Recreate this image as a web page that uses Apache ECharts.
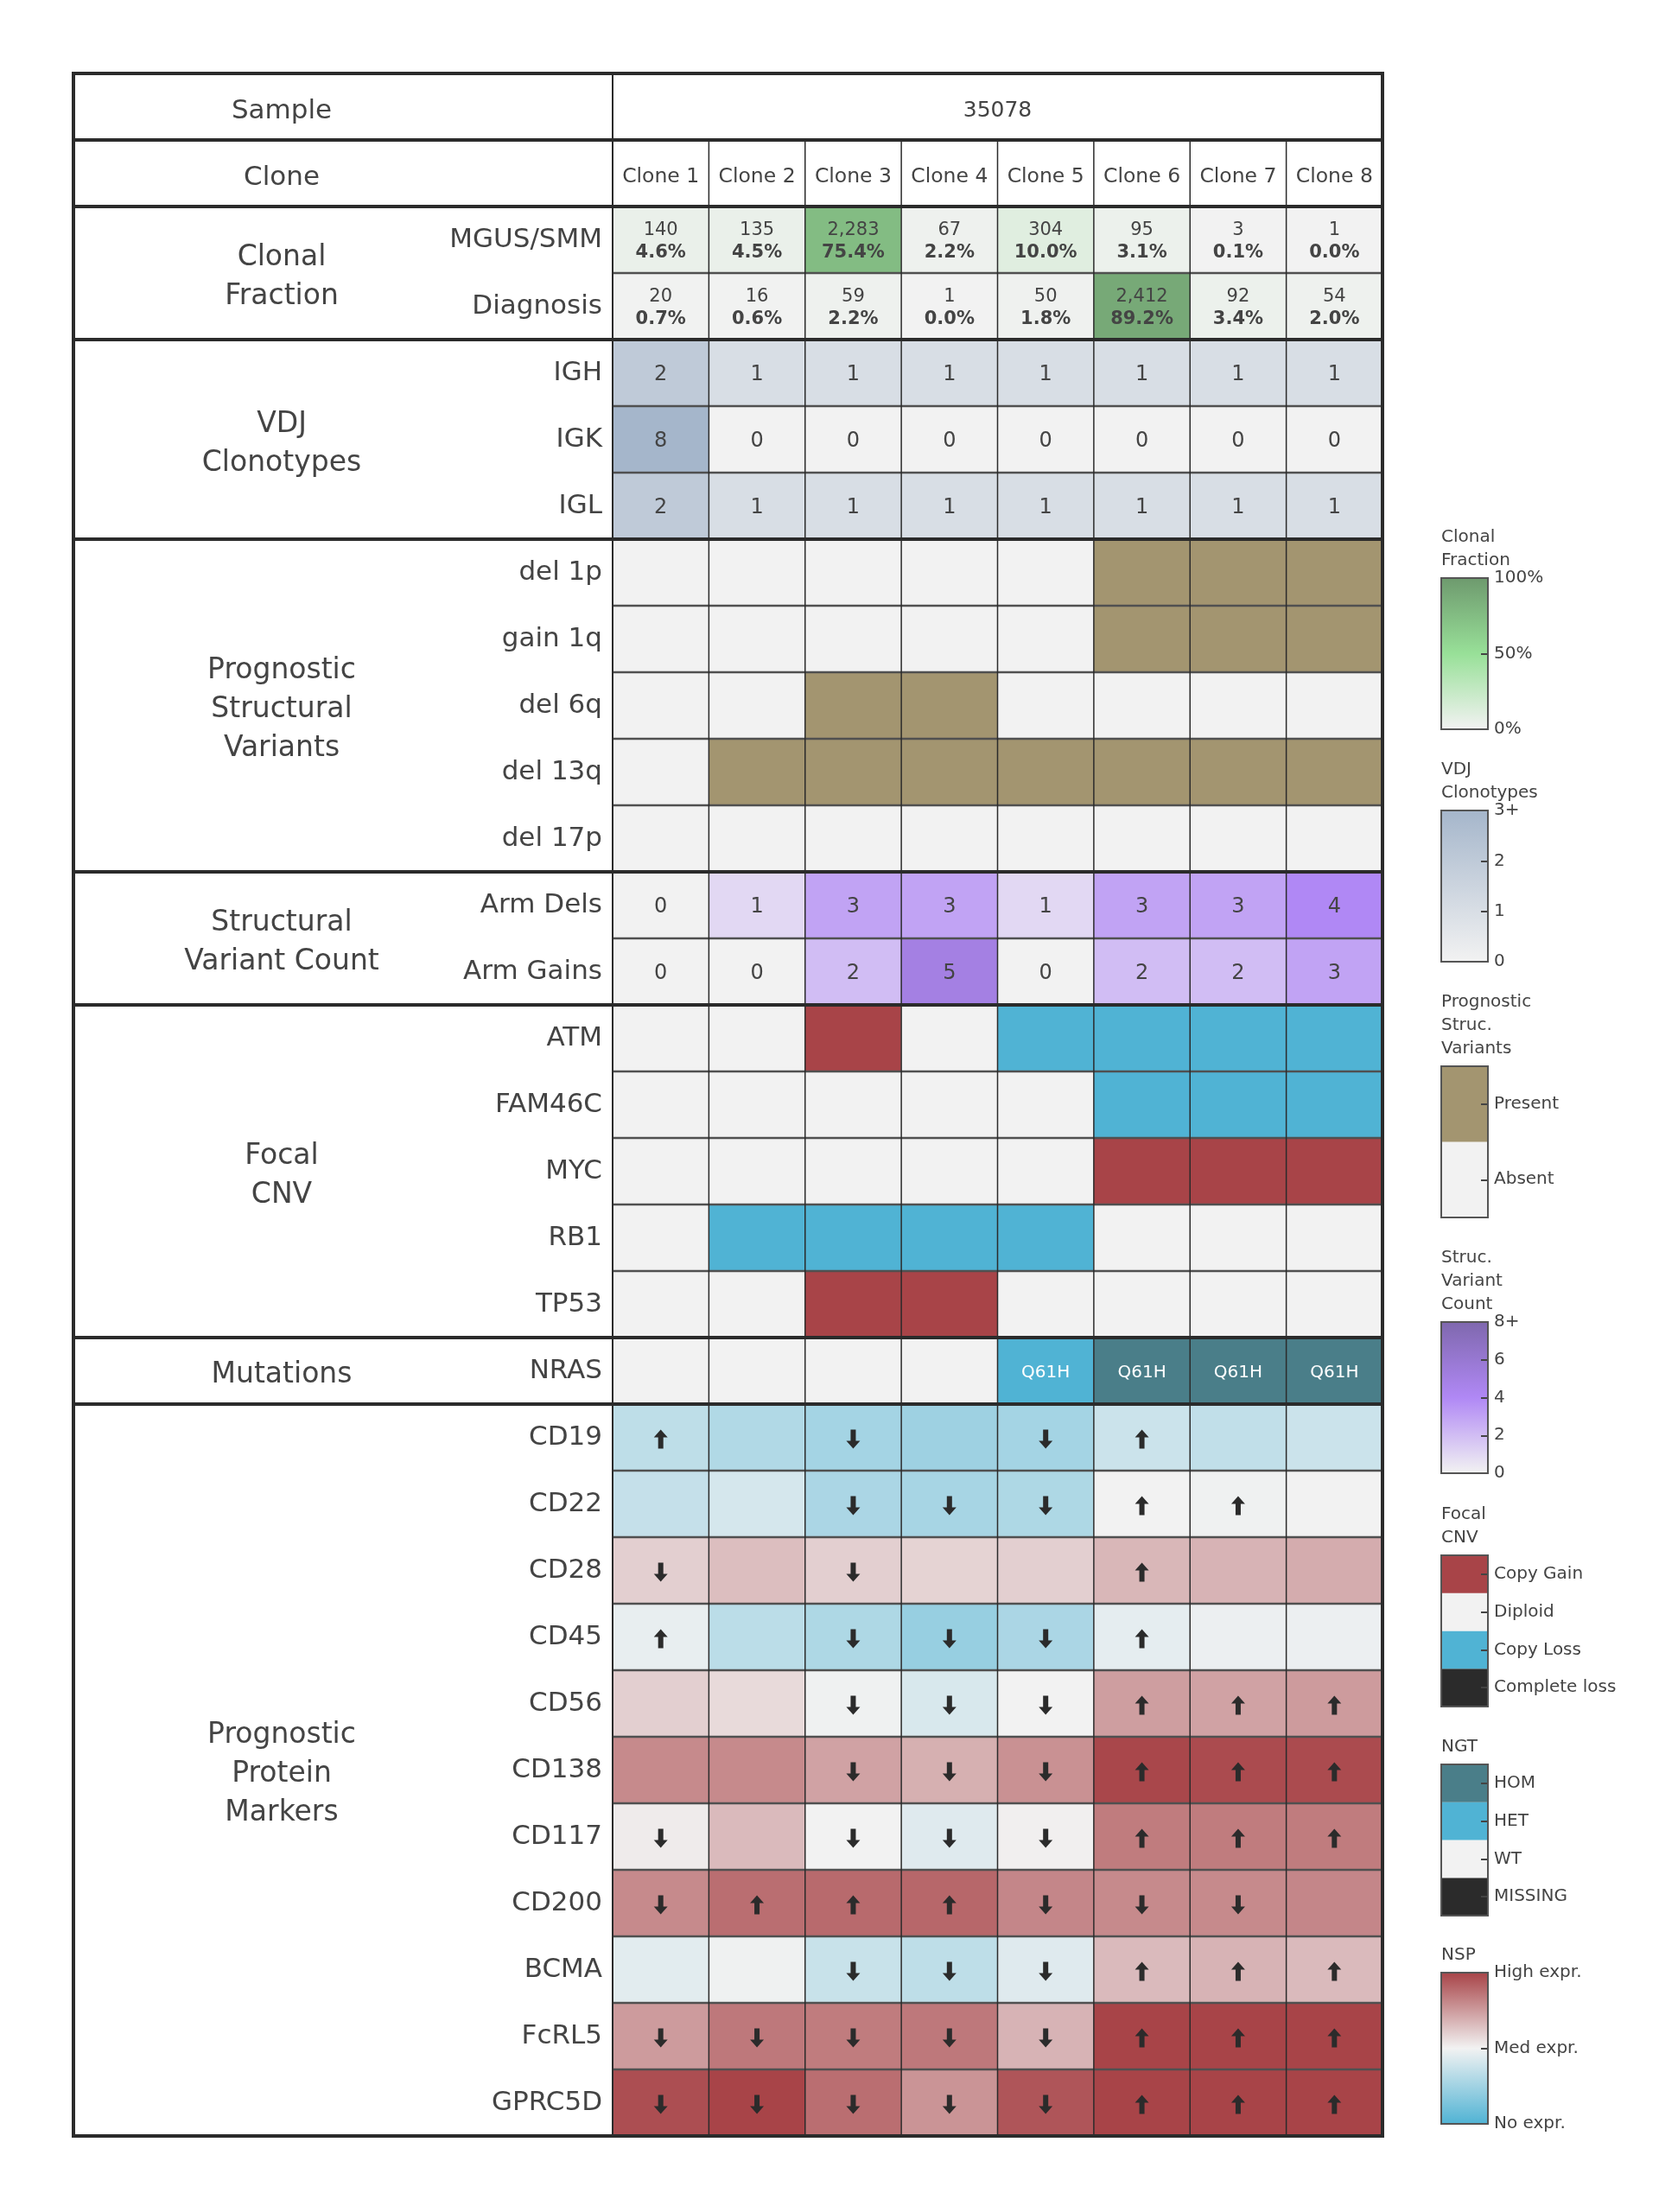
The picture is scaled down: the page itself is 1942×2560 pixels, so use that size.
<!DOCTYPE html>
<html><head><meta charset="utf-8">
<script src="https://cdn.jsdelivr.net/npm/echarts@6/dist/echarts.min.js"></script>
<style>html,body{margin:0;padding:0;background:#fff}#c{width:1942px;height:2560px}</style>
</head><body><div id="c"></div>
<script>
// ---------------- DATA ----------------
const sampleId = '35078';
const clones = ['Clone 1','Clone 2','Clone 3','Clone 4','Clone 5','Clone 6','Clone 7','Clone 8'];

const cfRows = ['MGUS/SMM','Diagnosis'];
const cfCounts = [[140,135,2283,67,304,95,3,1],[20,16,59,1,50,2412,92,54]];
const cfPct = [[4.6,4.5,75.4,2.2,10.0,3.1,0.1,0.0],[0.7,0.6,2.2,0.0,1.8,89.2,3.4,2.0]];

const vdjRows = ['IGH','IGK','IGL'];
const vdjCounts = [[2,1,1,1,1,1,1,1],[8,0,0,0,0,0,0,0],[2,1,1,1,1,1,1,1]];

const psvRows = ['del 1p','gain 1q','del 6q','del 13q','del 17p'];
const psvPresent = [
  [0,0,0,0,0,1,1,1],
  [0,0,0,0,0,1,1,1],
  [0,0,1,1,0,0,0,0],
  [0,1,1,1,1,1,1,1],
  [0,0,0,0,0,0,0,0]];
const psvLevels = ['Absent','Present'];

const svcRows = ['Arm Dels','Arm Gains'];
const svcCounts = [[0,1,3,3,1,3,3,4],[0,0,2,5,0,2,2,3]];

const cnvRows = ['ATM','FAM46C','MYC','RB1','TP53'];
const cnvStates = [
  ['Diploid','Diploid','Copy Gain','Diploid','Copy Loss','Copy Loss','Copy Loss','Copy Loss'],
  ['Diploid','Diploid','Diploid','Diploid','Diploid','Copy Loss','Copy Loss','Copy Loss'],
  ['Diploid','Diploid','Diploid','Diploid','Diploid','Copy Gain','Copy Gain','Copy Gain'],
  ['Diploid','Copy Loss','Copy Loss','Copy Loss','Copy Loss','Diploid','Diploid','Diploid'],
  ['Diploid','Diploid','Copy Gain','Copy Gain','Diploid','Diploid','Diploid','Diploid']];
const cnvLevels = ['Complete loss','Copy Loss','Diploid','Copy Gain'];

const mutRows = ['NRAS'];
const ngtStates = [['WT','WT','WT','WT','HET','HOM','HOM','HOM']];
const mutLabels = [['','','','','Q61H','Q61H','Q61H','Q61H']];
const ngtLevels = ['MISSING','WT','HET','HOM'];

const protRows = ['CD19','CD22','CD28','CD45','CD56','CD138','CD117','CD200','BCMA','FcRL5','GPRC5D'];
// expression, 0 = no expr., 0.5 = med expr., 1 = high expr.
const protExpr = [
  [0.34,0.30,0.26,0.24,0.26,0.38,0.35,0.38],
  [0.36,0.41,0.28,0.27,0.29,0.50,0.49,0.50],
  [0.60,0.65,0.60,0.59,0.60,0.67,0.68,0.70],
  [0.47,0.33,0.29,0.22,0.28,0.46,0.48,0.48],
  [0.60,0.57,0.49,0.42,0.50,0.74,0.73,0.75],
  [0.80,0.80,0.73,0.69,0.78,0.99,0.98,0.98],
  [0.52,0.66,0.50,0.44,0.51,0.84,0.84,0.84],
  [0.80,0.88,0.89,0.90,0.81,0.80,0.80,0.81],
  [0.45,0.49,0.37,0.34,0.44,0.66,0.68,0.66],
  [0.75,0.85,0.84,0.85,0.68,1.00,1.00,1.00],
  [0.97,1.00,0.88,0.77,0.95,1.00,1.00,1.00]];
const protArrows = [
  ['up','','down','','down','up','',''],
  ['','','down','down','down','up','up',''],
  ['down','','down','','','up','',''],
  ['up','','down','down','down','up','',''],
  ['','','down','down','down','up','up','up'],
  ['','','down','down','down','up','up','up'],
  ['down','','down','down','down','up','up','up'],
  ['down','up','up','up','down','down','down',''],
  ['','','down','down','down','up','up','up'],
  ['down','down','down','down','down','up','up','up'],
  ['down','down','down','down','down','up','up','up']];

// ---------------- STYLE ----------------
const FONT = 'DejaVu Sans';
const TXT = '#444';
const cfScale = ['#F2F2F2','#98E098','#6E9A6E'];
const vdjScale = ['#F2F2F2','#A5B6CB'];
const svcScale = ['#F2F2F2','#B088F5','#7F68AE'];
const nspScale = ['#50B3D4','#F2F2F2','#A84448'];
const psvColors = {'Absent':'#F2F2F2','Present':'#A39570'};
const cnvColors = {'Copy Gain':'#A84448','Diploid':'#F2F2F2','Copy Loss':'#50B3D4','Complete loss':'#2B2B2B'};
const ngtColors = {'HOM':'#4A7E89','HET':'#50B3D4','WT':'#F2F2F2','MISSING':'#2B2B2B'};
const ARROW_PATH = 'path://M8,0 L16,9 L11,9 L11,22 L5,22 L5,9 L0,9 Z';

const L = {tableL:85, tableR:1600, div:709, top:85, rowH:77, legX:1668, legW:54, legH:175, groupX:326, textDy:5};

// ---------------- BUILD ----------------
const groups = [
  {title:'Clonal\nFraction', rows:cfRows},
  {title:'VDJ\nClonotypes', rows:vdjRows},
  {title:'Prognostic\nStructural\nVariants', rows:psvRows},
  {title:'Structural\nVariant Count', rows:svcRows},
  {title:'Focal\nCNV', rows:cnvRows},
  {title:'Mutations', rows:mutRows},
  {title:'Prognostic\nProtein\nMarkers', rows:protRows}];
let o = 0;
groups.forEach(g => { g.start = o; o += g.rows.length; });
const allRows = groups.flatMap(g => g.rows);
const nHeader = 2;
const gridTop = L.top + nHeader * L.rowH;
const gridH = allRows.length * L.rowH;
const colW = (L.tableR - L.div) / clones.length;
const tableBottom = gridTop + gridH;

function build(mat, start, fn) {
  const out = [];
  mat.forEach((row, r) => row.forEach((v, c) => out.push(fn(v, c, start + r, r))));
  return out;
}
const cfData = build(cfPct, groups[0].start, (v, c, y, r) => [c, y, v, cfCounts[r][c]]);
const vdjData = build(vdjCounts, groups[1].start, (v, c, y) => [c, y, Math.min(v, 3), v]);
const psvData = build(psvPresent, groups[2].start, (v, c, y) => [c, y, v]);
const svcData = build(svcCounts, groups[3].start, (v, c, y) => [c, y, Math.min(v, 8), v]);
const cnvData = build(cnvStates, groups[4].start, (v, c, y) => [c, y, cnvLevels.indexOf(v)]);
const mutData = build(ngtStates, groups[5].start, (v, c, y, r) => [c, y, ngtLevels.indexOf(v), mutLabels[r][c]]);
const protData = build(protExpr, groups[6].start, (v, c, y) => [c, y, v]);
const arrowData = build(protArrows, groups[6].start, (v, c, y) => [c, y, v]).filter(d => d[2]);

function hm(data, label) {
  return {type:'heatmap', xAxisIndex:0, yAxisIndex:0, data, itemStyle:{borderWidth:0},
    emphasis:{disabled:true}, progressive:0, animation:false,
    label: label ? Object.assign({show:true, fontFamily:FONT, color:TXT, offset:[0, 2]}, label) : {show:false}};
}
const series = [
  hm(cfData, {formatter: p => '{n|' + p.value[3].toLocaleString('en-US') + '}\n{b|' + p.value[2].toFixed(1) + '%}',
    rich:{n:{fontSize:21, fontFamily:FONT, color:TXT, lineHeight:26}, b:{fontSize:21, fontFamily:FONT, fontWeight:'bold', color:TXT, lineHeight:26}}}),
  hm(vdjData, {formatter: p => String(p.value[3]), fontSize:24}),
  hm(psvData, null),
  hm(svcData, {formatter: p => String(p.value[3]), fontSize:24}),
  hm(cnvData, null),
  hm(mutData, {formatter: p => p.value[3], fontSize:20, color:'#fff'}),
  hm(protData, null)
];
const visualMap = [
  {type:'continuous', show:false, seriesIndex:0, dimension:2, min:0, max:100, inRange:{color:cfScale}},
  {type:'continuous', show:false, seriesIndex:1, dimension:2, min:0, max:3, inRange:{color:vdjScale}},
  {type:'piecewise', show:false, seriesIndex:2, dimension:2, pieces: psvLevels.map((l, i) => ({value:i, color:psvColors[l]}))},
  {type:'continuous', show:false, seriesIndex:3, dimension:2, min:0, max:8, inRange:{color:svcScale}},
  {type:'piecewise', show:false, seriesIndex:4, dimension:2, pieces: cnvLevels.map((l, i) => ({value:i, color:cnvColors[l]}))},
  {type:'piecewise', show:false, seriesIndex:5, dimension:2, pieces: ngtLevels.map((l, i) => ({value:i, color:ngtColors[l]}))},
  {type:'continuous', show:false, seriesIndex:6, dimension:2, min:0, max:1, inRange:{color:nspScale}}
];
// arrows of the protein markers
series.push({type:'scatter', xAxisIndex:0, yAxisIndex:0, data:arrowData, z:5, silent:true, animation:false,
  symbol:ARROW_PATH, symbolSize:[16, 22], symbolKeepAspect:false, symbolOffset:[0, 2],
  symbolRotate: v => v[2] === 'down' ? 180 : 0,
  itemStyle:{color:'#2b2b2b', opacity:1}});

const grid = [{left:L.div, top:gridTop, width:L.tableR - L.div, height:gridH}];
const xAxis = [{type:'category', gridIndex:0, data:clones, position:'top',
  axisLine:{show:false}, axisTick:{show:false}, splitLine:{show:false},
  axisLabel:{fontFamily:FONT, fontSize:23.5, color:TXT, margin:22, interval:0}}];
const yAxis = [{type:'category', gridIndex:0, data:allRows, inverse:true,
  axisLine:{show:false}, axisTick:{show:false}, splitLine:{show:false},
  axisLabel:{fontFamily:FONT, fontSize:31, color:TXT, margin:12, interval:0, padding:[13, 0, 0, 0]}}];

// legends (colorbars)
const legends = [
  {title:'Clonal\nFraction', top:669, kind:'cont', min:0, max:100, interval:50, scale:cfScale, fmt: v => v + '%'},
  {title:'VDJ\nClonotypes', top:938, kind:'cont', min:0, max:3, interval:1, scale:vdjScale, fmt: v => v === 3 ? '3+' : String(v)},
  {title:'Prognostic\nStruc.\nVariants', top:1234, kind:'cat', levels:psvLevels, colors:psvColors},
  {title:'Struc.\nVariant\nCount', top:1530, kind:'cont', min:0, max:8, interval:2, scale:svcScale, fmt: v => v === 8 ? '8+' : String(v)},
  {title:'Focal\nCNV', top:1800, kind:'cat', levels:cnvLevels, colors:cnvColors},
  {title:'NGT', top:2042, kind:'cat', levels:ngtLevels, colors:ngtColors},
  {title:'NSP', top:2283, kind:'cont', min:0, max:1, interval:0.5, scale:nspScale, fmt: v => ({0:'No expr.', 0.5:'Med expr.', 1:'High expr.'})[v]}
];
const graphics = [];
const tickStyle = {show:true, inside:true, length:8, lineStyle:{color:'#444', width:2}};
legends.forEach((lg, i) => {
  const gi = i + 1;
  grid.push({left:L.legX, top:lg.top, width:L.legW, height:L.legH});
  if (lg.kind === 'cont') {
    xAxis.push({type:'category', gridIndex:gi, data:['c'], show:false});
    yAxis.push({type:'value', gridIndex:gi, min:lg.min, max:lg.max, interval:lg.interval, position:'right', z:10,
      axisLine:{show:false, onZero:false}, axisTick:tickStyle, splitLine:{show:false},
      axisLabel:{fontFamily:FONT, fontSize:20, color:TXT, margin:7, formatter:lg.fmt}});
    const stops = lg.scale.map((c, k) => ({offset: 1 - k / (lg.scale.length - 1), color:c}));
    series.push({type:'bar', xAxisIndex:gi, yAxisIndex:gi, data:[lg.max], barWidth:'100%', silent:true, animation:false, z:1,
      itemStyle:{color:{type:'linear', x:0, y:0, x2:0, y2:1, colorStops: stops.slice().reverse()}}});
  } else {
    xAxis.push({type:'value', gridIndex:gi, min:0, max:1, show:false});
    yAxis.push({type:'category', gridIndex:gi, data:lg.levels, position:'right', z:10,
      axisLine:{show:false, onZero:false}, axisTick:Object.assign({alignWithLabel:true}, tickStyle), splitLine:{show:false},
      axisLabel:{fontFamily:FONT, fontSize:20, color:TXT, margin:7}});
    series.push({type:'bar', xAxisIndex:gi, yAxisIndex:gi, barWidth:'100%', silent:true, animation:false, z:1,
      data: lg.levels.map(l => ({value:1, itemStyle:{color:lg.colors[l]}}))});
  }
  graphics.push({type:'rect', z:100, silent:true, shape:{x:L.legX, y:lg.top, width:L.legW, height:L.legH},
    style:{fill:'none', stroke:'#555', lineWidth:2}});
  graphics.push({type:'text', z:100, silent:true, x:L.legX, y:lg.top - 7,
    style:{text:lg.title, fontFamily:FONT, fontSize:20, fill:TXT, lineHeight:27, align:'left', verticalAlign:'bottom'}});
});

// table lines
const thick = new Set([0, 1, 2, allRows.length + nHeader]);
groups.forEach(g => thick.add(g.start + nHeader));
for (let k = 0; k <= allRows.length + nHeader; k++) {
  const y = L.top + k * L.rowH;
  if (thick.has(k)) {
    graphics.push({type:'line', z:101, silent:true, shape:{x1:L.tableL - 2, y1:y, x2:L.tableR + 2, y2:y}, style:{stroke:'#2b2b2b', lineWidth:4}});
  } else if (k > nHeader) {
    graphics.push({type:'line', z:100, silent:true, shape:{x1:L.div, y1:y, x2:L.tableR, y2:y}, style:{stroke:'#505050', lineWidth:2.5}});
  }
}
[L.tableL, L.tableR].forEach(x => graphics.push({type:'line', z:101, silent:true,
  shape:{x1:x, y1:L.top, x2:x, y2:tableBottom}, style:{stroke:'#2b2b2b', lineWidth:4}}));
graphics.push({type:'line', z:101, silent:true, shape:{x1:L.div, y1:L.top, x2:L.div, y2:tableBottom}, style:{stroke:'#2b2b2b', lineWidth:2}});
for (let i = 1; i < clones.length; i++) {
  const x = L.div + i * colW;
  graphics.push({type:'line', z:100, silent:true, shape:{x1:x, y1:L.top + L.rowH, x2:x, y2:tableBottom}, style:{stroke:'#2b2b2b', lineWidth:1.5}});
}
// header texts
function txt(text, x, y, size, lh) {
  return {type:'text', z:102, silent:true, x, y: y + L.textDy,
    style:{text, fontFamily:FONT, fontSize:size, fill:TXT, lineHeight:lh || size * 1.3, align:'center', verticalAlign:'middle'}};
}
graphics.push(txt('Sample', L.groupX, L.top + L.rowH / 2, 31));
graphics.push(txt('Clone', L.groupX, L.top + 1.5 * L.rowH, 31));
graphics.push(txt(sampleId, (L.div + L.tableR) / 2, L.top + L.rowH / 2, 25));
groups.forEach(g => {
  const cy = gridTop + (g.start + g.rows.length / 2) * L.rowH;
  graphics.push(txt(g.title, L.groupX, cy, 33, 45));
});

const chart = echarts.init(document.getElementById('c'));
chart.setOption({animation:false, backgroundColor:'#fff', grid, xAxis, yAxis, visualMap, series, graphic:graphics});
</script></body></html>
